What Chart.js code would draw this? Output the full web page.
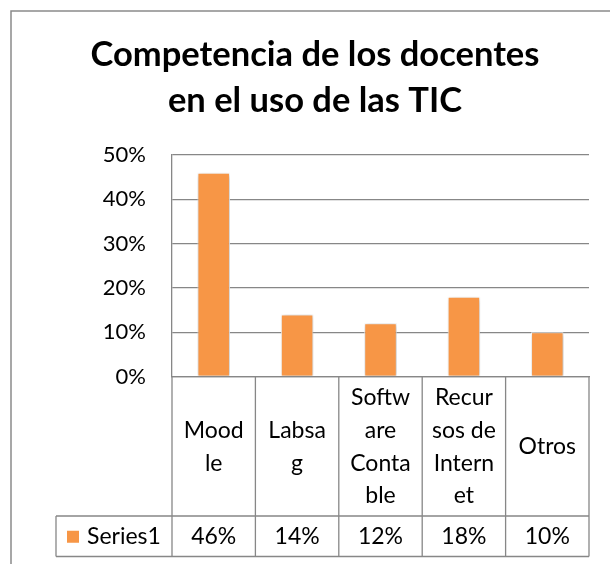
<!DOCTYPE html>
<html>
<head>
<meta charset="utf-8">
<script src="https://cdn.jsdelivr.net/npm/chart.js@4.4.1/dist/chart.umd.min.js"></script>
<style>
  html, body { margin: 0; padding: 0; background: #ffffff; overflow: hidden; }
  #wrap { position: relative; width: 610px; height: 564px; }
</style>
</head>
<body>
<div id="wrap"><canvas id="c" width="610" height="564"></canvas></div>
<script>
const titleLines = ['Competencia de los docentes', 'en el uso de las TIC'];
const categories = ['Moodle', 'Labsag', 'Software Contable', 'Recursos de Internet', 'Otros'];
const categoryLines = [['Mood', 'le'], ['Labsa', 'g'], ['Softw', 'are', 'Conta', 'ble'], ['Recur', 'sos de', 'Intern', 'et'], ['Otros']];
const seriesName = 'Series1';
const seriesValues = [46, 14, 12, 18, 10];
const yTicks = [0, 10, 20, 30, 40, 50];

const FONT = 'Lato, "Open Sans", sans-serif';
const GRID = '#878787';
const ORANGE = '#F79646';

const frame = {
  id: 'frame',
  beforeDraw(chart) {
    const ctx = chart.ctx;
    ctx.save();
    ctx.fillStyle = '#ffffff';
    ctx.fillRect(0, 0, chart.width, chart.height);
    ctx.strokeStyle = '#8a8a8a';
    ctx.lineWidth = 1.5;
    ctx.beginPath();
    ctx.moveTo(11, chart.height);
    ctx.lineTo(11, 11);
    ctx.lineTo(chart.width, 11);
    ctx.stroke();
    ctx.restore();
  }
};

const barShadow = {
  id: 'barShadow',
  beforeDatasetsDraw(chart) {
    const ctx = chart.ctx;
    ctx.save();
    ctx.shadowColor = 'rgba(0,0,0,0.28)';
    ctx.shadowBlur = 5;
    ctx.shadowOffsetX = 1;
    ctx.shadowOffsetY = 1;
  },
  afterDatasetsDraw(chart) {
    chart.ctx.restore();
  }
};

const dataTable = {
  id: 'dataTable',
  afterDraw(chart) {
    const ctx = chart.ctx;
    const xs = chart.scales.x;
    const n = categories.length;
    const colW = xs.width / n;
    const top = chart.chartArea.bottom;
    const rowMid = top + 139.5;
    const rowEnd = top + 180;
    const legendLeft = 56;
    const edges = [];
    for (let i = 0; i < n; i++) edges.push(xs.getPixelForValue(i) - colW / 2);
    edges.push(xs.getPixelForValue(n - 1) + colW / 2);

    ctx.save();
    ctx.strokeStyle = GRID;
    ctx.lineWidth = 1.3;
    ctx.beginPath();
    edges.forEach(x => { ctx.moveTo(x, top); ctx.lineTo(x, rowEnd); });
    ctx.moveTo(legendLeft, rowMid); ctx.lineTo(edges[n], rowMid);
    ctx.moveTo(legendLeft, rowEnd); ctx.lineTo(edges[n], rowEnd);
    ctx.moveTo(legendLeft, rowMid); ctx.lineTo(legendLeft, rowEnd);
    ctx.stroke();

    ctx.fillStyle = '#000000';
    ctx.font = '23px ' + FONT;
    ctx.textAlign = 'center';
    ctx.textBaseline = 'alphabetic';
    const lh = 32.7;
    const catMid = (top + rowMid) / 2;
    categoryLines.forEach((lines, i) => {
      const cx = xs.getPixelForValue(i);
      const first = catMid - (lines.length - 1) * lh / 2 + 8;
      lines.forEach((t, j) => ctx.fillText(t, cx, first + j * lh));
    });
    const valMid = (rowMid + rowEnd) / 2 + 8;
    seriesValues.forEach((v, i) => {
      ctx.fillText(v + '%', xs.getPixelForValue(i), valMid);
    });
    ctx.fillStyle = ORANGE;
    ctx.fillRect(67, valMid - 13.5, 12, 12);
    ctx.fillStyle = '#000000';
    ctx.textAlign = 'left';
    ctx.fillText(seriesName, 87, valMid);
    ctx.restore();
  }
};

function build() {
  new Chart(document.getElementById('c'), {
    type: 'bar',
    data: {
      labels: categories,
      datasets: [{
        label: seriesName,
        data: seriesValues,
        backgroundColor: ORANGE,
        borderColor: '#ffffff',
        borderWidth: 1,
        barPercentage: 0.39,
        categoryPercentage: 1
      }]
    },
    options: {
      responsive: false,
      animation: false,
      layout: { padding: { left: 41, right: 21, top: 0, bottom: 0 } },
      plugins: {
        legend: { display: false },
        tooltip: { enabled: false },
        title: {
          display: true,
          text: titleLines,
          color: '#000000',
          font: { family: FONT, size: 34.5, weight: 'bold', lineHeight: 46 / 34.5 },
          padding: { top: 32, bottom: 31 }
        }
      },
      scales: {
        x: {
          ticks: { display: false },
          grid: { display: false },
          border: { display: true, color: GRID, width: 1.3 },
          afterFit(s) { s.height = 187.5; }
        },
        y: {
          min: 0,
          max: 50,
          afterBuildTicks(s) { s.ticks = yTicks.map(v => ({ value: v })); },
          ticks: {
            color: '#000000',
            font: { family: FONT, size: 22 },
            padding: 26,
            callback: v => v + '%'
          },
          grid: { color: GRID, lineWidth: 1.3, drawTicks: false },
          border: { display: true, color: GRID, width: 1.3 },
          afterFit(s) { s.width = 131; }
        }
      }
    },
    plugins: [frame, barShadow, dataTable]
  });
}

if (document.fonts && document.fonts.load) {
  Promise.all([
    document.fonts.load('22px Lato'),
    document.fonts.load('bold 34.5px Lato')
  ]).then(build, build);
} else {
  build();
}
</script>
</body>
</html>
